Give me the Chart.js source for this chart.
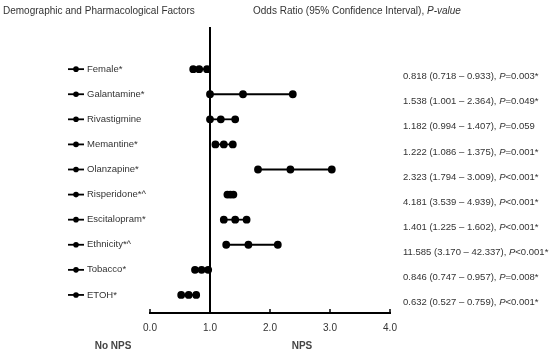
<!DOCTYPE html>
<html>
<head>
<meta charset="utf-8">
<script src="https://cdn.jsdelivr.net/npm/chart.js@4"></script>
<style>
  html, body { margin: 0; padding: 0; background: #fff; }
  #wrap { width: 550px; height: 358px; }
</style>
</head>
<body>
<div id="wrap"><canvas id="forestChart"></canvas></div>
<script>
// Factors top to bottom (x positions of the dots)
const factors = ['Female*', 'Galantamine*', 'Rivastigmine', 'Memantine*', 'Olanzapine*',
  'Risperidone*^', 'Escitalopram*', 'Ethnicity*^', 'Tobacco*', 'ETOH*'];
const lower    = [0.72, 1.00, 1.00, 1.09, 1.80, 1.29, 1.23, 1.27, 0.75, 0.52];
const estimate = [0.82, 1.55, 1.18, 1.23, 2.34, 1.34, 1.42, 1.64, 0.86, 0.645];
const upper    = [0.95, 2.38, 1.42, 1.38, 3.03, 1.39, 1.61, 2.13, 0.97, 0.77];

// Text column on the right
const orText = ['0.818 (0.718 – 0.933), ', '1.538 (1.001 – 2.364), ', '1.182 (0.994 – 1.407), ',
  '1.222 (1.086 – 1.375), ', '2.323 (1.794 – 3.009), ', '4.181 (3.539 – 4.939), ',
  '1.401 (1.225 – 1.602), ', '11.585 (3.170 – 42.337), ', '0.846 (0.747 – 0.957), ',
  '0.632 (0.527 – 0.759), '];
const pText = ['=0.003*', '=0.049*', '=0.059', '=0.001*', '<0.001*',
  '<0.001*', '<0.001*', '<0.001*', '=0.008*', '<0.001*'];

const xTicks = [0, 1, 2, 3, 4];
const refValue = 1;

const FONT = '"Liberation Sans", Arial, sans-serif';
const TEXT = '#333';

const datasets = factors.map((f, i) => ({
  label: f,
  data: [
    { x: lower[i], y: i },
    { x: estimate[i], y: i },
    { x: upper[i], y: i },
  ],
  showLine: true,
  borderColor: '#000',
  backgroundColor: '#000',
  borderWidth: 1.8,
  pointRadius: 3,
  pointHoverRadius: 3,
}));

// Headers, reference line, left labels, right text column, axis captions
const forestExtras = {
  id: 'forestExtras',
  afterDraw(chart) {
    const ctx = chart.ctx;
    const xs = chart.scales.x;
    const ys = chart.scales.y;
    const area = chart.chartArea;
    ctx.save();

    // headers
    ctx.fillStyle = TEXT;
    ctx.textBaseline = 'middle';
    ctx.textAlign = 'left';
    ctx.font = '10px ' + FONT;
    ctx.fillText('Demographic and Pharmacological Factors', 3, 11);
    const h = 'Odds Ratio (95% Confidence Interval), ';
    ctx.fillText(h, 253, 11);
    const hw = ctx.measureText(h).width;
    ctx.font = 'italic 10px ' + FONT;
    ctx.fillText('P-value', 253 + hw, 11);

    // reference line at OR = 1
    const rx = xs.getPixelForValue(refValue);
    ctx.strokeStyle = '#000';
    ctx.lineWidth = 2;
    ctx.beginPath();
    ctx.moveTo(rx, area.top);
    ctx.lineTo(rx, area.bottom);
    ctx.stroke();

    // small inward ticks on the x axis
    ctx.lineWidth = 1.5;
    xTicks.forEach(v => {
      const px = xs.getPixelForValue(v);
      ctx.beginPath();
      ctx.moveTo(px, area.bottom);
      ctx.lineTo(px, area.bottom - 4);
      ctx.stroke();
    });

    factors.forEach((f, i) => {
      const py = ys.getPixelForValue(i);
      // legend-like marker
      ctx.strokeStyle = '#000';
      ctx.lineWidth = 1.8;
      ctx.beginPath();
      ctx.moveTo(68, py);
      ctx.lineTo(84, py);
      ctx.stroke();
      ctx.fillStyle = '#000';
      ctx.beginPath();
      ctx.arc(76, py, 2.8, 0, Math.PI * 2);
      ctx.fill();

      ctx.fillStyle = TEXT;
      ctx.font = '9.5px ' + FONT;
      ctx.textAlign = 'left';
      ctx.fillText(f, 87, py);

      // right column
      ctx.fillText(orText[i], 403, py + 7.5);
      const w = ctx.measureText(orText[i]).width;
      ctx.font = 'italic 9.5px ' + FONT;
      ctx.fillText('P', 403 + w, py + 7.5);
      const pw = ctx.measureText('P').width;
      ctx.font = '9.5px ' + FONT;
      ctx.fillText(pText[i], 403 + w + pw, py + 7.5);
    });

    // bottom captions
    ctx.fillStyle = '#444';
    ctx.font = 'bold 10px ' + FONT;
    ctx.textAlign = 'center';
    ctx.fillText('No NPS', 113, 346);
    ctx.fillText('NPS', 302, 346);
    ctx.restore();
  }
};

new Chart(document.getElementById('forestChart'), {
  type: 'scatter',
  data: { datasets },
  options: {
    responsive: true,
    maintainAspectRatio: false,
    animation: false,
    layout: { padding: { left: 150, right: 160, top: 27, bottom: 23 } },
    plugins: {
      legend: { display: false },
      tooltip: { enabled: false },
    },
    scales: {
      x: {
        type: 'linear',
        min: 0,
        max: 4,
        afterBuildTicks: axis => { axis.ticks = xTicks.map(v => ({ value: v })); },
        grid: { display: false },
        border: { display: true, color: '#000', width: 2 },
        ticks: {
          padding: 1,
          color: TEXT,
          font: { family: FONT, size: 10 },
          callback: v => v.toFixed(1),
        },
      },
      y: {
        type: 'linear',
        reverse: true,
        min: -1.68,
        max: 9.72,
        display: false,
      },
    },
  },
  plugins: [forestExtras],
});
</script>
</body>
</html>
